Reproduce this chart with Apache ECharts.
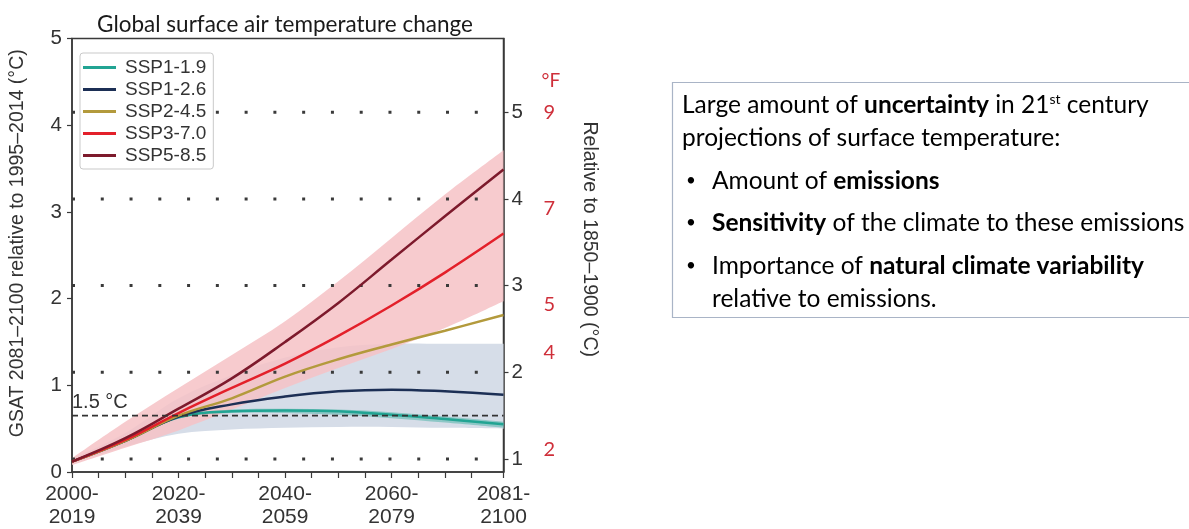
<!DOCTYPE html>
<html>
<head>
<meta charset="utf-8">
<script src="https://cdn.jsdelivr.net/npm/echarts@6/dist/echarts.min.js"></script>
<style>
  html, body { margin: 0; padding: 0; background: #ffffff; }
  #chart { width: 1189px; height: 529px; }
</style>
</head>
<body>
<div id="chart"></div>
<script>
// Mid-year of each 20-year period on the x axis
const periodMid = [2009.5, 2019.5, 2029.5, 2039.5, 2049.5, 2059.5, 2069.5, 2079.5, 2090.5];

// GSAT change relative to 1995–2014 (°C), central estimates
const ssp119 = [0.12, 0.36, 0.63, 0.70, 0.71, 0.70, 0.66, 0.61, 0.55];
const ssp126 = [0.12, 0.36, 0.64, 0.78, 0.87, 0.93, 0.95, 0.93, 0.89];
const ssp245 = [0.12, 0.36, 0.65, 0.85, 1.10, 1.30, 1.47, 1.63, 1.81];
const ssp370 = [0.12, 0.37, 0.68, 0.97, 1.25, 1.57, 1.92, 2.30, 2.75];
const ssp585 = [0.12, 0.39, 0.73, 1.08, 1.50, 1.95, 2.45, 2.95, 3.49];

// Very likely ranges
const ssp119Lo = [0.12, 0.36, 0.62, 0.68, 0.68, 0.66, 0.62, 0.57, 0.51];
const ssp119Hi = [0.12, 0.36, 0.64, 0.72, 0.73, 0.72, 0.69, 0.64, 0.58];
const ssp126Lo = [0.10, 0.29, 0.44, 0.49, 0.51, 0.52, 0.52, 0.51, 0.50];
const ssp126Hi = [0.15, 0.45, 0.85, 1.12, 1.32, 1.44, 1.48, 1.48, 1.48];
const ssp370Lo = [0.08, 0.28, 0.48, 0.72, 0.97, 1.20, 1.42, 1.66, 1.97];
const ssp370Hi = [0.16, 0.58, 0.97, 1.35, 1.74, 2.20, 2.70, 3.20, 3.71];

const scenarioNames = ['SSP1-1.9', 'SSP1-2.6', 'SSP2-4.5', 'SSP3-7.0', 'SSP5-8.5'];
const scenarioColors = ['#22a493', '#1c2f55', '#b39a3c', '#e3202a', '#7d1a2c'];

// Axis ticks and labels
const xLabelValues = [2009.5, 2029.5, 2049.5, 2069.5, 2090.5];
const xLabels = ['2000-\n2019', '2020-\n2039', '2040-\n2059', '2060-\n2079', '2081-\n2100'];
const xTickValues = [2009.5, 2014.5, 2019.5, 2024.5, 2029.5, 2034.5, 2039.5, 2044.5, 2049.5,
  2054.5, 2059.5, 2064.5, 2069.5, 2074.5, 2079.5, 2084.5, 2090.5];
const preindustrialTicks = [1, 2, 3, 4, 5];      // °C relative to 1850–1900
const fahrenheitTicks = [2, 4, 5, 7, 9];         // °F relative to 1850–1900
const baselineOffset = 0.85;                      // 1995–2014 minus 1850–1900
const paris15 = 1.5;

const axisFont = 'Liberation Sans, Arial, sans-serif';
const textFont = 'Lato, Open Sans, sans-serif';
const textColor = '#232323';
const boxFontSize = 24.5;
const xMin = periodMid[0], xMax = periodMid[periodMid.length - 1];

function splinePath(pts, first) {
  let d = (first ? 'M' : 'L') + pts[0][0] + ' ' + pts[0][1];
  for (let i = 0; i < pts.length - 1; i++) {
    const p0 = pts[Math.max(i - 1, 0)], p1 = pts[i], p2 = pts[i + 1], p3 = pts[Math.min(i + 2, pts.length - 1)];
    const c1 = [p1[0] + (p2[0] - p0[0]) / 6, p1[1] + (p2[1] - p0[1]) / 6];
    const c2 = [p2[0] - (p3[0] - p1[0]) / 6, p2[1] - (p3[1] - p1[1]) / 6];
    d += ' C' + c1[0] + ' ' + c1[1] + ' ' + c2[0] + ' ' + c2[1] + ' ' + p2[0] + ' ' + p2[1];
  }
  return d;
}

function band(name, lo, hi, fill, z) {
  return {
    type: 'custom', name: name, z: z, silent: true, clip: true,
    data: [0],
    renderItem: function (params, api) {
      const upper = periodMid.map((x, i) => api.coord([x, hi[i]]));
      const lower = periodMid.map((x, i) => api.coord([x, lo[i]])).reverse();
      return {
        type: 'path',
        shape: { pathData: splinePath(upper, true) + ' ' + splinePath(lower, false) + ' Z' },
        style: { fill: fill, stroke: null }
      };
    }
  };
}

function pairs(vals) { return periodMid.map((x, i) => [x, vals[i]]); }

const richBox = {
  r: { fontFamily: textFont, fontSize: boxFontSize, color: textColor },
  b: { fontFamily: textFont, fontSize: boxFontSize, fontWeight: 'bold', color: textColor },
  s: { fontFamily: textFont, fontSize: 14, color: textColor, verticalAlign: 'top', padding: [0, 0, 9, 0] },
  dot: { fontFamily: textFont, fontSize: 17, color: textColor }
};

function boxLine(x, y, text) {
  return { type: 'text', z: 11, x: x, y: y, style: { text: text, verticalAlign: 'middle', rich: richBox } };
}

const chart = echarts.init(document.getElementById('chart'), null, { renderer: 'canvas' });

const series = [];
series.push(band('SSP1-2.6 range', ssp126Lo, ssp126Hi, 'rgb(214,221,232)', 1));
series.push(band('SSP3-7.0 range', ssp370Lo, ssp370Hi, 'rgba(246,195,198,0.86)', 2));
series.push(band('SSP1-1.9 range', ssp119Lo, ssp119Hi, 'rgba(40,170,150,0.42)', 3));

// Dotted guide lines at whole degrees above 1850–1900
preindustrialTicks.forEach(function (lvl) {
  series.push({
    type: 'line', yAxisIndex: 1, z: 4, silent: true, symbol: 'none',
    data: [[xMin, lvl], [xMax, lvl]],
    lineStyle: { color: '#3a3a3a', width: 3, type: [3, 25.77], cap: 'butt' }
  });
});

const lines = [ssp119, ssp126, ssp245, ssp370, ssp585];
lines.forEach(function (vals, i) {
  series.push({
    type: 'line', name: scenarioNames[i], z: 5, symbol: 'none', smooth: 0.4,
    data: pairs(vals),
    lineStyle: { color: scenarioColors[i], width: 2.5 },
    itemStyle: { color: scenarioColors[i] }
  });
});

// 1.5 °C level
series.push({
  type: 'line', yAxisIndex: 1, z: 6, silent: true, symbol: 'none',
  data: [[xMin, paris15], [xMax, paris15]],
  lineStyle: { color: '#333333', width: 1.6, type: [6, 4] },
  markPoint: {
    symbol: 'circle', symbolSize: 0, silent: true,
    data: [{ coord: [xMin, paris15] }],
    label: {
      show: true, position: 'right', distance: 0, offset: [0, -13],
      formatter: '1.5 °C', fontFamily: axisFont, fontSize: 20, color: '#333333'
    }
  }
});

const option = {
  animation: false,
  backgroundColor: '#ffffff',
  title: {
    text: 'Global surface air temperature change',
    left: 280, top: 8, textAlign: 'center',
    textStyle: { fontFamily: textFont, fontSize: 22.5, fontWeight: 'normal', color: '#1a1a1a' }
  },
  legend: {
    data: scenarioNames, z: 10,
    orient: 'vertical', left: 80, top: 53,
    icon: 'rect', itemWidth: 33, itemHeight: 3, itemGap: 3,
    padding: [5, 7, 4, 3],
    backgroundColor: '#ffffff', borderColor: '#c9c9c9', borderWidth: 1, borderRadius: 3,
    textStyle: { fontFamily: axisFont, fontSize: 19, lineHeight: 19, color: '#333333', padding: [0, 0, 0, 4] }
  },
  grid: {
    left: 72, top: 38.5, width: 431.5, height: 434.5,
    show: true, borderColor: '#3a3a3a', borderWidth: 1.5, backgroundColor: 'transparent'
  },
  xAxis: {
    type: 'value', min: xMin, max: xMax,
    splitLine: { show: false },
    axisLine: { lineStyle: { color: '#3a3a3a', width: 1.5 } },
    axisTick: { customValues: xTickValues, length: 6, lineStyle: { color: '#3a3a3a', width: 1.2 } },
    axisLabel: {
      customValues: xLabelValues,
      formatter: function (v) { return xLabels[xLabelValues.indexOf(v)]; },
      fontFamily: axisFont, fontSize: 21, lineHeight: 23, color: '#333333', margin: 11
    }
  },
  yAxis: [
    {
      type: 'value', min: 0, max: 5, interval: 1, position: 'left',
      name: 'GSAT 2081–2100 relative to 1995–2014 (°C)',
      nameLocation: 'middle', nameGap: 44,
      nameTextStyle: { fontFamily: axisFont, fontSize: 19.5, color: '#333333', padding: [0, 0, 0, 24] },
      splitLine: { show: false },
      axisLine: { show: true, lineStyle: { color: '#3a3a3a', width: 1.5 } },
      axisTick: { show: true, length: 5, lineStyle: { color: '#3a3a3a', width: 1.2 } },
      axisLabel: { fontFamily: axisFont, fontSize: 20.5, color: '#333333', margin: 10 }
    },
    {
      type: 'value', min: baselineOffset, max: 5 + baselineOffset, position: 'right',
      name: 'Relative to 1850–1900 (°C)',
      nameLocation: 'middle', nameGap: 76, nameRotate: -90,
      nameTextStyle: { fontFamily: axisFont, fontSize: 19.5, color: '#333333', padding: [0, 32, 0, 0] },
      splitLine: { show: false },
      axisLine: { show: true, lineStyle: { color: '#3a3a3a', width: 1.5 } },
      axisTick: { show: true, customValues: preindustrialTicks, length: 5, lineStyle: { color: '#3a3a3a', width: 1.2 } },
      axisLabel: { customValues: preindustrialTicks, fontFamily: axisFont, fontSize: 20.5, color: '#333333', margin: 8 }
    },
    {
      type: 'value', min: baselineOffset * 1.8, max: (5 + baselineOffset) * 1.8, position: 'right', offset: 36,
      name: '°F', nameLocation: 'end', nameGap: -52,
      nameTextStyle: { fontFamily: textFont, fontSize: 19, color: '#cf2f3a', align: 'left', padding: [0, 0, 0, 2] },
      splitLine: { show: false },
      axisLine: { show: false },
      axisTick: { show: false },
      axisLabel: { customValues: fahrenheitTicks, fontFamily: textFont, fontSize: 20, color: '#cf2f3a', margin: 4 }
    }
  ],
  graphic: [
    {
      type: 'rect', z: 10,
      shape: { x: 672.5, y: 82.5, width: 560, height: 235 },
      style: { fill: '#ffffff', stroke: '#a9b4c6', lineWidth: 1.2 }
    },
    boxLine(682, 105, '{r|Large amount of }{b|uncertainty}{r| in 21}{s|st}{r| century}'),
    boxLine(682, 138, '{r|projections of surface temperature:}'),
    boxLine(686, 181, '{dot|•}'),
    boxLine(686, 223, '{dot|•}'),
    boxLine(686, 266, '{dot|•}'),
    boxLine(712, 181, '{r|Amount of }{b|emissions}'),
    boxLine(712, 223, '{b|Sensitivity}{r| of the climate to these emissions}'),
    boxLine(712, 266, '{r|Importance of }{b|natural climate variability}'),
    boxLine(712, 299, '{r|relative to emissions.}')
  ],
  series: series
};

chart.setOption(option);
</script>
</body>
</html>
